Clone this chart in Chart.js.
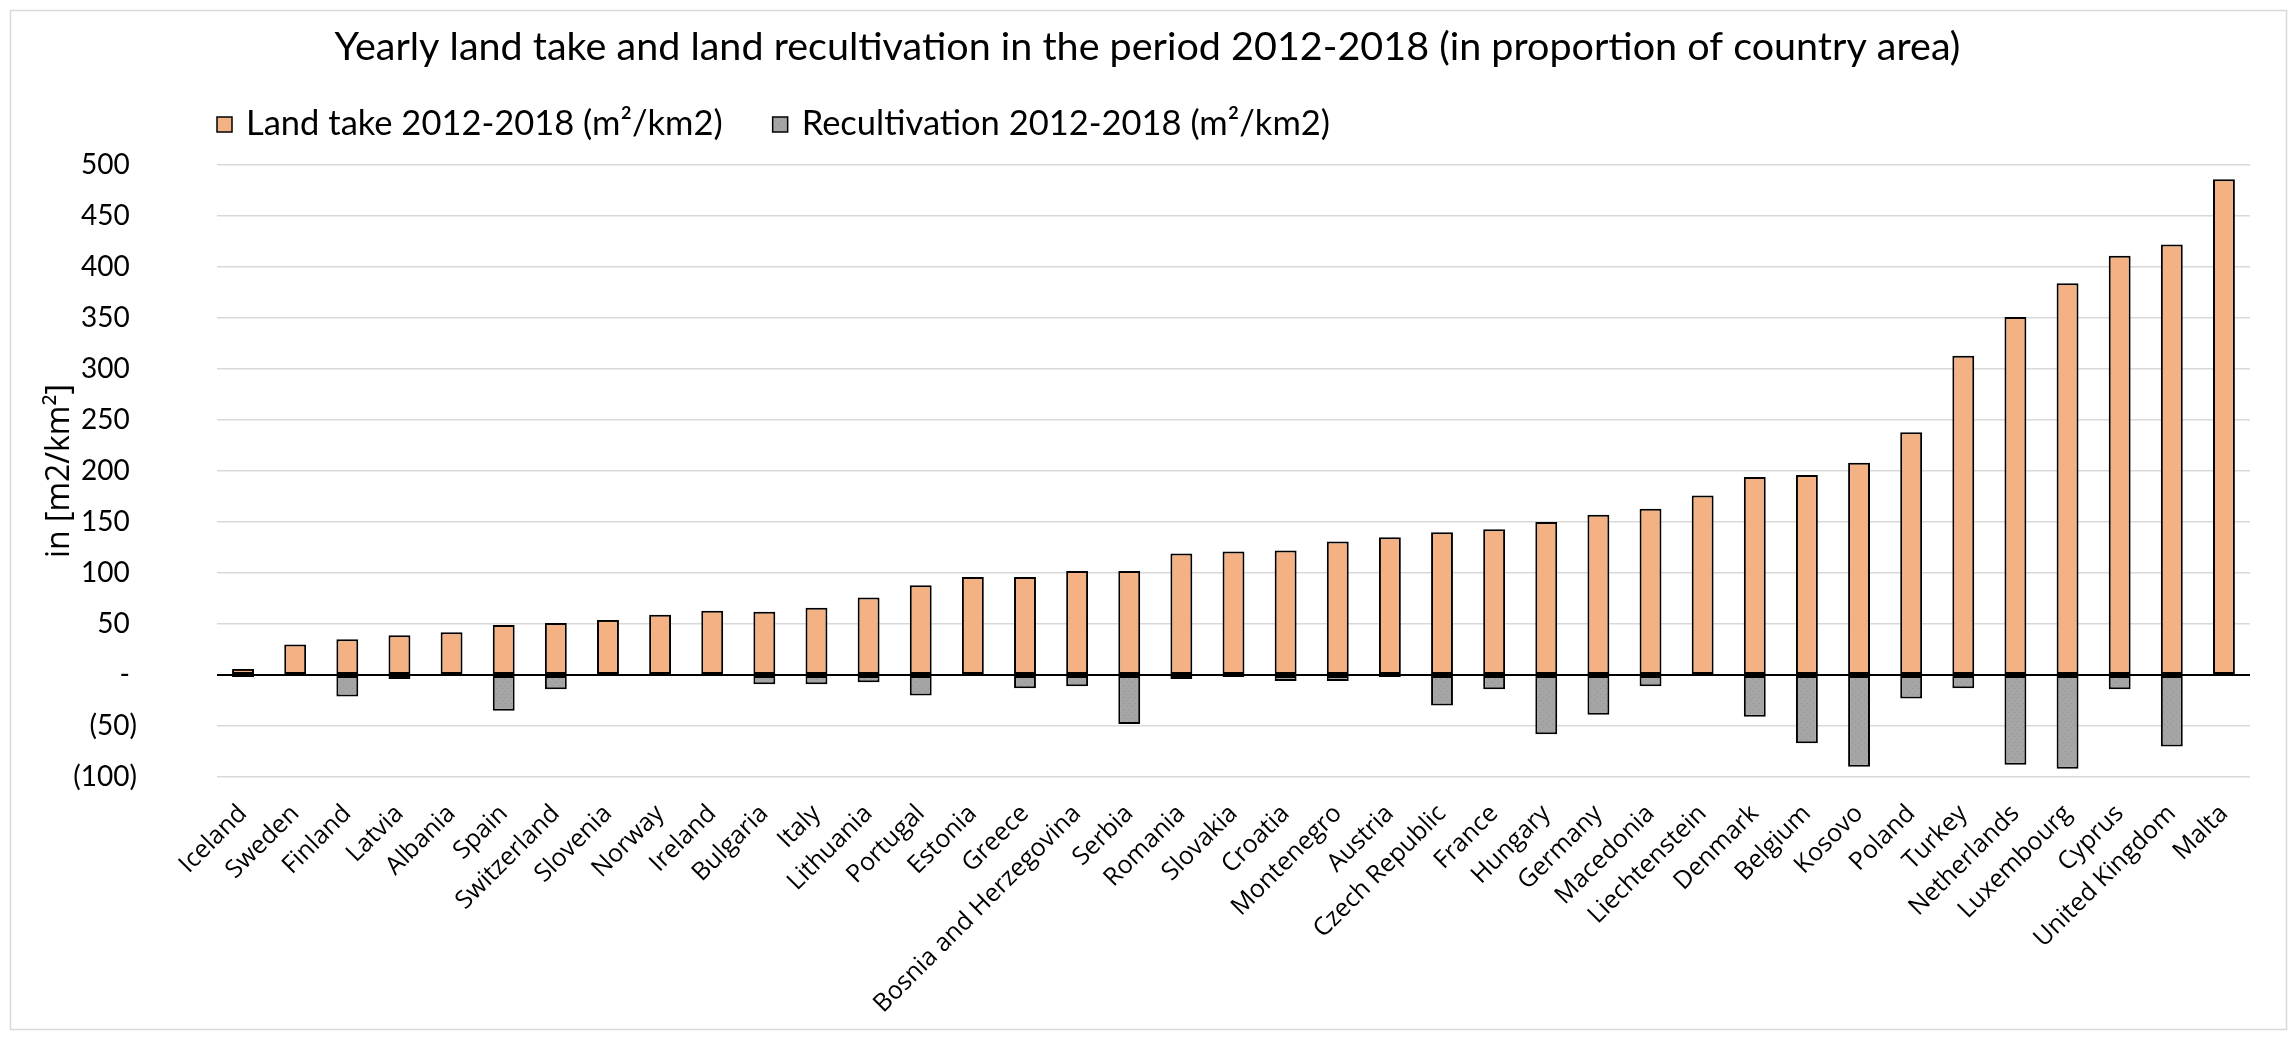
<!DOCTYPE html>
<html>
<head>
<meta charset="utf-8">
<title>Yearly land take and land recultivation 2012-2018</title>
<script src="https://cdn.jsdelivr.net/npm/chart.js@4.4.1/dist/chart.umd.min.js"></script>
<style>
  html, body { margin: 0; padding: 0; background: #fff; }
  canvas { display: block; }
</style>
</head>
<body>
<canvas id="land_chart" width="2295" height="1037"></canvas>
<script>
const countries = [
    'Iceland', 'Sweden', 'Finland', 'Latvia', 'Albania', 'Spain', 'Switzerland', 'Slovenia',
    'Norway', 'Ireland', 'Bulgaria', 'Italy', 'Lithuania', 'Portugal', 'Estonia', 'Greece',
    'Bosnia and Herzegovina', 'Serbia', 'Romania', 'Slovakia', 'Croatia', 'Montenegro', 'Austria',
    'Czech Republic', 'France', 'Hungary', 'Germany', 'Macedonia', 'Liechtenstein', 'Denmark',
    'Belgium', 'Kosovo', 'Poland', 'Turkey', 'Netherlands', 'Luxembourg', 'Cyprus',
    'United Kingdom', 'Malta'
];

// m²/km² per year
const landTake = [
    6, 30, 35, 39, 42, 49, 51, 54, 59, 63, 62, 66, 76, 88, 96, 96, 102, 102, 119, 121,
    122, 131, 135, 140, 143, 150, 157, 163, 176, 194, 196, 208, 238, 313, 351, 384, 411, 422, 486
];
const recultivation = [
    -2, -1, -21, -4, -1, -35, -14, -1, -1, -1, -9, -9, -7, -20, -1, -13, -11, -48, -4, -2,
    -6, -6, -2, -30, -14, -58, -39, -11, 0, -41, -67, -90, -23, -13, -88, -92, -14, -70, 0
];

const seriesNames = ['Land take 2012-2018 (m²/km2)', 'Recultivation 2012-2018 (m²/km2)'];
const yMin = -100, yMax = 500, yStep = 50;

// light grey fill with a faint dot texture
function dottedGrey() {
    const tile = document.createElement('canvas');
    tile.width = 6;
    tile.height = 6;
    const t = tile.getContext('2d');
    t.fillStyle = '#a5a5a5';
    t.fillRect(0, 0, 6, 6);
    t.fillStyle = '#949494';
    t.fillRect(1, 1, 1, 1);
    t.fillRect(4, 4, 1, 1);
    return t.createPattern(tile, 'repeat');
}

// outer frame of the chart
const chartFrame = {
    id: 'chartFrame',
    beforeDraw(chart) {
        const ctx = chart.ctx;
        ctx.save();
        ctx.strokeStyle = '#d9d9d9';
        ctx.lineWidth = 1.5;
        ctx.strokeRect(10.5, 10.5, 2276, 1019);
        ctx.restore();
    }
};

// single-row legend, left aligned under the title
const legendRow = {
    id: 'legendRow',
    afterDraw(chart) {
        const ctx = chart.ctx;
        let x = 217;
        const y = 124;
        ctx.save();
        ctx.font = '34.5px Lato';
        ctx.textBaseline = 'middle';
        chart.data.datasets.forEach(ds => {
            ctx.fillStyle = ds.backgroundColor;
            ctx.fillRect(x, y - 7, 15, 15);
            ctx.strokeStyle = '#000';
            ctx.lineWidth = 1.5;
            ctx.strokeRect(x, y - 7, 15, 15);
            ctx.fillStyle = '#000';
            ctx.fillText(ds.label, x + 29, y);
            x += 29 + ctx.measureText(ds.label).width + 50;
        });
        ctx.restore();
    }
};

const ctx = document.getElementById('land_chart').getContext('2d');

new Chart(ctx, {
    type: 'bar',
    data: {
        labels: countries,
        datasets: [{
            label: seriesNames[0],
            data: landTake,
            backgroundColor: '#f4b183',
            borderColor: '#000',
            borderWidth: 2,
            borderSkipped: false
        }, {
            label: seriesNames[1],
            data: recultivation,
            backgroundColor: dottedGrey(),
            borderColor: '#000',
            borderWidth: 2,
            borderSkipped: false
        }]
    },
    options: {
        responsive: false,
        animation: false,
        devicePixelRatio: 1,
        layout: { padding: 0 },
        datasets: {
            bar: { categoryPercentage: 1, barPercentage: 0.42 }
        },
        plugins: {
            legend: { display: false },
            tooltip: { enabled: false },
            title: {
                display: true,
                text: 'Yearly land take and land recultivation in the period 2012-2018 (in proportion of country area)',
                color: '#000',
                font: { family: 'Lato', size: 39.5, weight: 'normal' },
                padding: { top: 24, bottom: 93.6 }
            }
        },
        scales: {
            x: {
                stacked: true,
                grid: { display: false, drawTicks: false },
                border: { display: false },
                ticks: {
                    autoSkip: false,
                    minRotation: 45,
                    maxRotation: 45,
                    padding: 22,
                    color: '#000',
                    font: { family: 'Open Sans', size: 25 }
                },
                afterFit(scale) { scale.height = 260; }
            },
            y: {
                stacked: true,
                min: yMin,
                max: yMax,
                grid: {
                    drawTicks: false,
                    color: c => c.tick.value === 0 ? '#000' : '#d9d9d9',
                    lineWidth: c => c.tick.value === 0 ? 2 : 1.5
                },
                border: { display: false },
                ticks: {
                    stepSize: yStep,
                    padding: 80,
                    color: '#000',
                    font: { family: 'Lato', size: 28 },
                    callback: v => v === 0 ? '- ' : v < 0 ? '(' + (-v) + ')' : v + ' '
                },
                title: {
                    display: true,
                    text: 'in [m2/km²]',
                    color: '#000',
                    font: { family: 'Open Sans', size: 32 },
                    padding: { top: 41, bottom: 0 }
                },
                afterFit(scale) { scale.width = 217; }
            },
            // blank right-hand margin so the title stays centred on the canvas
            yRight: {
                position: 'right',
                min: yMin,
                max: yMax,
                grid: { display: false, drawTicks: false },
                border: { display: false },
                ticks: { display: false },
                afterFit(scale) { scale.width = 45; }
            }
        }
    },
    plugins: [chartFrame, legendRow]
});
</script>
</body>
</html>
